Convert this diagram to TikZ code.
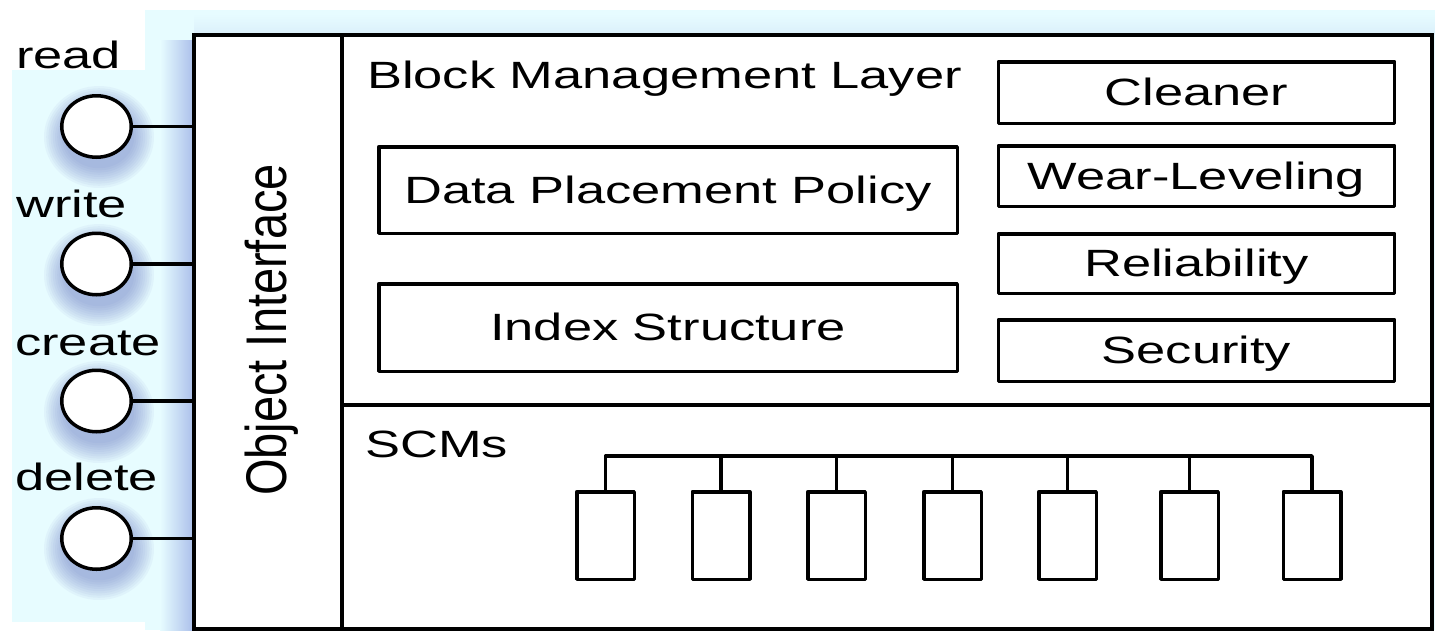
\documentclass[tikz,border=0pt]{standalone}
\usepackage{fontspec}
\setmainfont{Liberation Sans}
\usepackage{graphicx}
\usetikzlibrary{shapes.geometric}

\definecolor{bgcyan}{RGB}{231,252,255}
\definecolor{edgeblue}{RGB}{170,190,234}
\definecolor{glowblue}{RGB}{90,105,190}

% wide sans lettering used throughout
\newcommand\widetext[1]{\scalebox{1.38}[1]{#1}}

\tikzset{
  frame/.style={draw, line width=4pt, fill=white, inner sep=0pt, outer sep=0pt},
  divider/.style={line width=4pt},
  boxnode/.style={draw, line width=3.5pt, line join=round, inner sep=0pt, outer sep=0pt,
    font=\fontsize{38}{46}\selectfont, text height=26pt, text depth=0pt},
  lbl/.style={font=\fontsize{38}{46}\selectfont, inner sep=0pt, anchor=base west},
  port/.style={ellipse, draw, line width=3.5pt, fill=white, inner sep=0pt, outer sep=0pt,
    minimum width=69.5pt, minimum height=61.5pt},
  wire/.style={line width=3.5pt},
  scm/.style={draw, line width=3.5pt, line join=round, fill=white, inner sep=0pt, outer sep=0pt,
    minimum width=57.5pt, minimum height=87.5pt},
  bus/.style={line width=3.5pt, line join=round},
}

\begin{document}
\begin{tikzpicture}[x=1pt,y=-1pt]
\useasboundingbox (0,0) rectangle (1435,630);

% pale backdrop
\fill[bgcyan] (145,10) rectangle (1435,630);
\fill[bgcyan] (12,70) rectangle (145,622);

% soft shadow along the frame edges
\shade[left color=bgcyan, right color=edgeblue] (160,40) rectangle (194,630);
\shade[top color=bgcyan, bottom color=bgcyan!80!edgeblue] (194,14) rectangle (1435,34);

% glow beneath the operation ports
\begin{scope}
  \clip (145,10) rectangle (1435,630) (12,70) rectangle (145,622);
  \foreach \cy in {126,264,401,538} {
    \foreach \k in {1,...,10} {
      \fill[glowblue, opacity=0.055] (99,\cy+11) ellipse ({33pt+2.2pt*\k} and {29pt+2.2pt*\k});
    }
  }
\end{scope}

% outer frame and its partitions
\node[frame, minimum width=1237.5pt, minimum height=594.5pt] (fr) at (812.75,331.75) {};
\coordinate (split) at (341.5,0);
\coordinate (layer) at (0,405);
\draw[divider] (fr.north -| split) -- (fr.south -| split);
\draw[line width=3.2pt] (split |- layer) -- (fr.east |- layer);

% object interface column
\node[font=\fontsize{47}{56}\selectfont, rotate=90, anchor=base, inner sep=0pt] (oi)
  at (286,330) {\scalebox{1}[1.22]{Object Interface}};

% operation ports
\node[port] (rd) at (96.5,126.5) {};
\node[port] (wr) at (96.5,264) {};
\node[port] (cr) at (96.5,401) {};
\node[port] (dl) at (96.5,538.5) {};
\foreach \p in {rd,wr,cr,dl} {
  \draw[wire] (\p.east) -- (\p.east -| fr.west);
}
\node[lbl] (lrd) at (16,68) {\widetext{read}};
\node[lbl] (lwr) at (16,217) {\widetext{write}};
\node[lbl] (lcr) at (15,355) {\widetext{create}};
\node[lbl] (ldl) at (15,490) {\widetext{delete}};

% block management layer
\node[lbl] (bml) at (367,88) {\widetext{Block Management Layer}};
\node[boxnode, minimum width=578.5pt, minimum height=86.5pt] (dpp) at (668,190) {\widetext{Data Placement Policy}};
\node[boxnode, minimum width=578.5pt, minimum height=87.5pt] (idx) at (668,327.5) {\widetext{Index Structure}};
\node[boxnode, minimum width=396pt, minimum height=61.5pt] (cln) at (1196.5,92.5) {\widetext{Cleaner}};
\node[boxnode, minimum width=396pt, minimum height=60.5pt] (wl) at (1196.5,176) {\widetext{Wear-Leveling}};
\node[boxnode, minimum width=396pt, minimum height=59.5pt] (rel) at (1196.5,263.5) {\widetext{Reliability}};
\node[boxnode, minimum width=396pt, minimum height=61.5pt] (sec) at (1196.5,350.5) {\widetext{Security}};

% storage-class memory devices
\node[lbl] (scml) at (365,457) {\widetext{SCMs}};
\foreach \i/\x in {1/605.5, 2/721, 3/836.5, 4/952.5, 5/1067.5, 6/1189.5, 7/1312} {
  \node[scm] (s\i) at (\x,535.5) {};
}
\coordinate (busline) at (0,456);
\draw[bus] (s1.north) -- (s1.north |- busline) -- (s7.north |- busline) -- (s7.north);
\foreach \i in {2,...,6} {
  \draw[bus] (s\i.north) -- (s\i.north |- busline);
}
\end{tikzpicture}
\end{document}
